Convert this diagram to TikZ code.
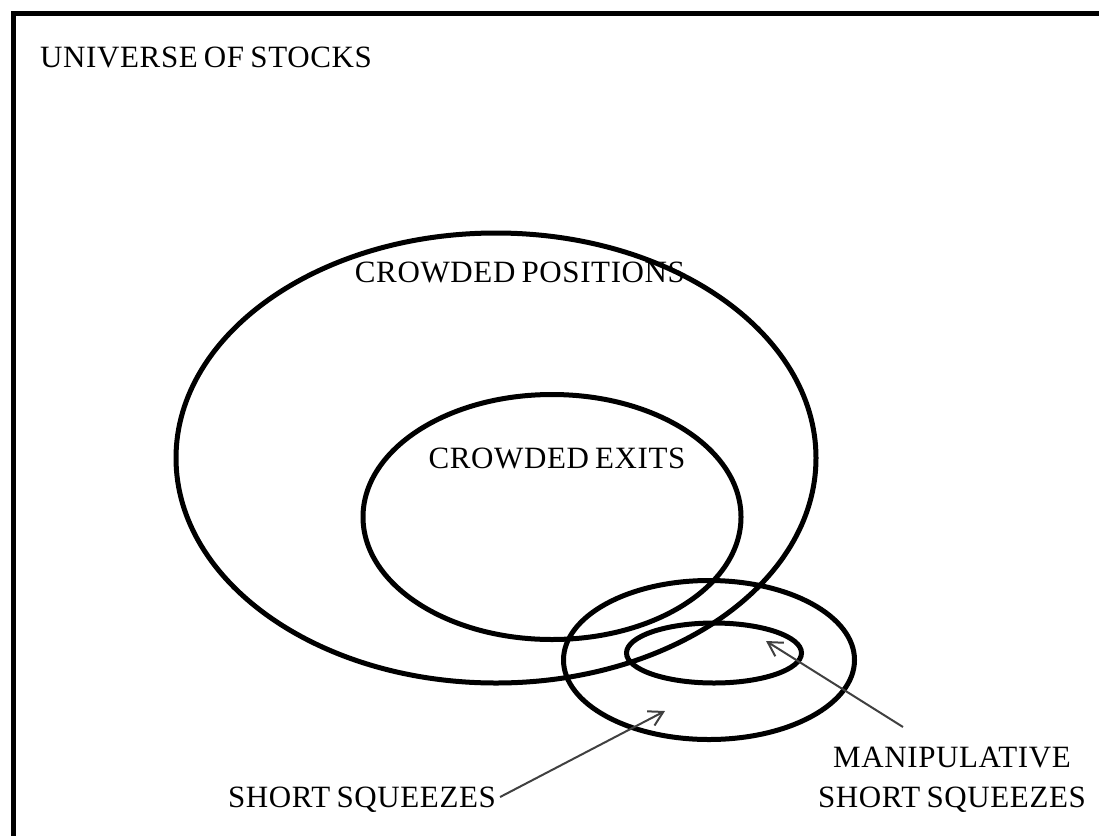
\documentclass[tikz,border=0pt]{standalone}
\usepackage{fontspec}
\setmainfont{Liberation Serif}
\usetikzlibrary{arrows.meta,shapes.geometric}
\newcommand\diaglblfont{\fontsize{31}{40}\selectfont\addfontfeature{LetterSpace=2}\spaceskip=0.2em plus 0.05em\relax}
\begin{document}
\begin{tikzpicture}[x=1pt,y=-1pt,
  set/.style={draw=black,line width=5pt,ellipse,inner sep=0pt},
  lbl/.style={font=\diaglblfont,inner sep=0pt,align=center},
  pointer/.style={draw=black!75,line width=2pt,-{Straight Barb[length=14pt,width=16pt,line width=2pt]}}]
\useasboundingbox (0,0) rectangle (1099,835);
\begin{scope}
\clip (0,0) rectangle (1099,835);
\draw[line width=5pt] (13,845) |- (1110,13);
\end{scope}
\node[lbl,anchor=west] (univ) at (40,57) {UNIVERSE OF STOCKS};
\node[set,minimum width=640pt,minimum height=450pt] (pos) at (496,458) {};
\node[set,minimum width=378pt,minimum height=245pt] (exits) at (552,517) {};
\node[set,minimum width=291pt,minimum height=159pt] (sq) at (709,660) {};
\node[set,minimum width=175pt,minimum height=60pt] (man) at (714,653) {};
\node[lbl] (posl) at (520,272) {CROWDED POSITIONS};
\node[lbl] (exl) at (557,458) {CROWDED EXITS};
\node[lbl] (sql) at (362,800) {SHORT SQUEEZES};
\node[lbl] (manl) at (952,780) {MANIPULATIVE\\SHORT SQUEEZES};
\coordinate (sqtip) at (665,711);
\coordinate (mantip) at (766,641);
\coordinate (mantail) at (903,727);
\draw[pointer] (sql.east) ++(4,-3) -- (sqtip);
\draw[pointer] (mantail) -- (mantip);
\end{tikzpicture}
\end{document}
